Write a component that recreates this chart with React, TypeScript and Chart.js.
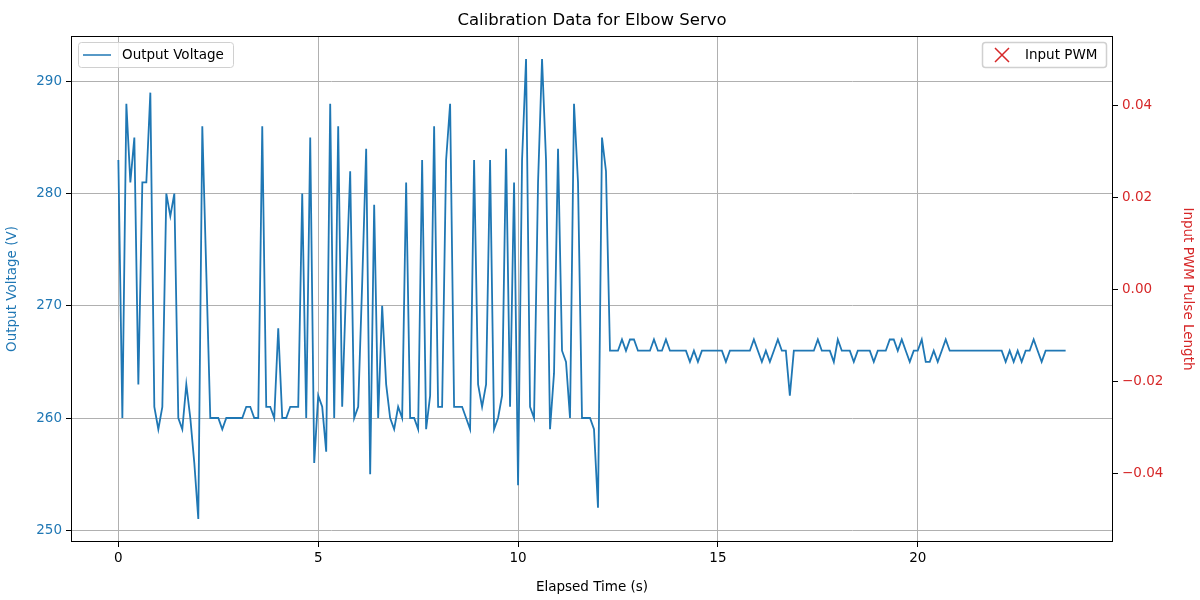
import { useEffect, useRef } from "react"
import { Chart, registerables } from "chart.js"

Chart.register(...registerables)

// Sampled at 10 Hz
const SAMPLE_PERIOD = 0.1

const outputVoltage = [
  283, 260, 288, 281, 285, 263, 281, 281, 289, 261,
  259, 261, 280, 278, 280, 260, 259, 263, 260, 256,
  251, 286, 273, 260, 260, 260, 259, 260, 260, 260,
  260, 260, 261, 261, 260, 260, 286, 261, 261, 260,
  268, 260, 260, 261, 261, 261, 280, 260, 285, 256,
  262, 261, 257, 288, 260, 286, 261, 272, 282, 260,
  261, 272, 284, 255, 279, 260, 270, 263, 260, 259,
  261, 260, 281, 260, 260, 259, 283, 259, 262, 286,
  261, 261, 283, 288, 261, 261, 261, 260, 259, 283,
  263, 261, 263, 283, 259, 260, 262, 284, 261, 281,
  254, 283, 292, 261, 260, 281, 292, 283, 259, 264,
  284, 266, 265, 260, 288, 281, 260, 260, 260, 259,
  252, 285, 282, 266, 266, 266, 267, 266, 267, 267,
  266, 266, 266, 266, 267, 266, 266, 267, 266, 266,
  266, 266, 266, 265, 266, 265, 266, 266, 266, 266,
  266, 266, 265, 266, 266, 266, 266, 266, 266, 267,
  266, 265, 266, 265, 266, 267, 266, 266, 262, 266,
  266, 266, 266, 266, 266, 267, 266, 266, 266, 265,
  267, 266, 266, 266, 265, 266, 266, 266, 266, 265,
  266, 266, 266, 267, 267, 266, 267, 266, 265, 266,
  266, 267, 265, 265, 266, 265, 266, 267, 266, 266,
  266, 266, 266, 266, 266, 266, 266, 266, 266, 266,
  266, 266, 265, 266, 265, 266, 265, 266, 266, 267,
  266, 265, 266, 266, 266, 266, 266, 266,
]

// Input PWM series is empty in the source plot
const inputPwm: { x: number; y: number }[] = []

const xTicks = [0, 5, 10, 15, 20]
const voltageTicks = [250, 260, 270, 280, 290]
const pwmTicks = [-0.04, -0.02, 0, 0.02, 0.04]

const BLUE = "#1f77b4"
const RED = "#d62728"
const FONT = "'DejaVu Sans', sans-serif"

const framePlugin = {
  id: "frame",
  afterDraw(chart: Chart) {
    const { ctx, chartArea: a } = chart
    ctx.save()
    ctx.strokeStyle = "#000"
    ctx.lineWidth = 1
    ctx.strokeRect(a.left + 0.5, a.top + 0.5, a.right - a.left - 1, a.bottom - a.top - 1)

    ctx.fillStyle = "#000"
    ctx.font = `16.5px ${FONT}`
    ctx.textAlign = "center"
    ctx.textBaseline = "middle"
    ctx.fillText("Calibration Data for Elbow Servo", (a.left + a.right) / 2, 21)

    const box = (x: number, w: number) => {
      ctx.fillStyle = "rgba(255,255,255,0.8)"
      ctx.strokeStyle = "#d0d0d0"
      ctx.beginPath()
      ctx.roundRect(x + 0.5, 42.5, w, 25, 3)
      ctx.fill()
      ctx.stroke()
    }
    ctx.font = `13.5px ${FONT}`
    ctx.textAlign = "left"
    box(78, 155)
    ctx.strokeStyle = BLUE
    ctx.lineWidth = 1.5
    ctx.beginPath()
    ctx.moveTo(83, 55)
    ctx.lineTo(111, 55)
    ctx.stroke()
    ctx.fillStyle = "#000"
    ctx.fillText("Output Voltage", 122, 55)

    box(982, 124)
    ctx.strokeStyle = RED
    ctx.lineWidth = 1.5
    ctx.beginPath()
    ctx.moveTo(995, 48)
    ctx.lineTo(1009, 62)
    ctx.moveTo(1009, 48)
    ctx.lineTo(995, 62)
    ctx.stroke()
    ctx.fillStyle = "#000"
    ctx.fillText("Input PWM", 1025, 55)
    ctx.restore()
  },
}

export default function App() {
  const chartRef = useRef<HTMLCanvasElement>(null)
  const chartInstance = useRef<Chart | null>(null)

  useEffect(() => {
    document.body.style.margin = "0"
    if (!chartRef.current) return
    if (chartInstance.current) chartInstance.current.destroy()
    const ctx = chartRef.current.getContext("2d")
    if (!ctx) return

    const points = outputVoltage.map((v, i) => ({ x: i * SAMPLE_PERIOD, y: v }))

    chartInstance.current = new Chart(ctx, {
      type: "line",
      data: {
        datasets: [
          {
            label: "Output Voltage",
            data: points,
            borderColor: BLUE,
            borderWidth: 1.8,
            pointRadius: 0,
            tension: 0,
            yAxisID: "y",
          },
          {
            type: "scatter",
            label: "Input PWM",
            data: inputPwm,
            borderColor: RED,
            pointStyle: "crossRot",
            yAxisID: "y1",
          },
        ],
      },
      options: {
        animation: false,
        responsive: false,
        layout: { padding: { top: 36 } },
        plugins: { legend: { display: false }, tooltip: { enabled: false } },
        scales: {
          x: {
            type: "linear",
            min: -1.185,
            max: 24.885,
            afterBuildTicks: (s: any) => { s.ticks = xTicks.map((v) => ({ value: v })) },
            afterFit: (s: any) => { s.height = 58 },
            grid: { color: "#b0b0b0", tickColor: "#000", tickLength: 5 },
            border: { display: false },
            ticks: { color: "#000", font: { family: FONT, size: 13.5 }, padding: 3, maxRotation: 0 },
            title: { display: true, text: "Elapsed Time (s)", color: "#000", font: { family: FONT, size: 13.5 }, padding: { top: 2 } },
          },
          y: {
            position: "left",
            min: 248.95,
            max: 294.05,
            afterBuildTicks: (s: any) => { s.ticks = voltageTicks.map((v) => ({ value: v })) },
            afterFit: (s: any) => { s.width = 71 },
            grid: { color: "#b0b0b0", tickColor: "#000", tickLength: 5 },
            border: { display: false },
            ticks: { color: BLUE, font: { family: FONT, size: 13.5 }, padding: 4 },
            title: { display: true, text: "Output Voltage (V)", color: BLUE, font: { family: FONT, size: 13.5 }, padding: { bottom: 4 } },
          },
          y1: {
            position: "right",
            min: -0.055,
            max: 0.055,
            afterBuildTicks: (s: any) => { s.ticks = pwmTicks.map((v) => ({ value: v })) },
            afterFit: (s: any) => { s.width = 87 },
            grid: { drawOnChartArea: false, tickColor: "#000", tickLength: 5 },
            border: { display: false },
            ticks: {
              color: RED,
              font: { family: FONT, size: 13.5 },
              padding: 4,
              callback: (v: any) => Number(v).toFixed(2).replace("-", "\u2212"),
            },
            title: { display: true, text: "Input PWM Pulse Length", color: RED, font: { family: FONT, size: 13.5 }, padding: { top: 4 } },
          },
        },
      },
      plugins: [framePlugin],
    })

    return () => {
      if (chartInstance.current) chartInstance.current.destroy()
    }
  }, [])

  return (
    <div style={{ width: 1200, height: 600 }}>
      <canvas ref={chartRef} width={1200} height={600}></canvas>
    </div>
  )
}
